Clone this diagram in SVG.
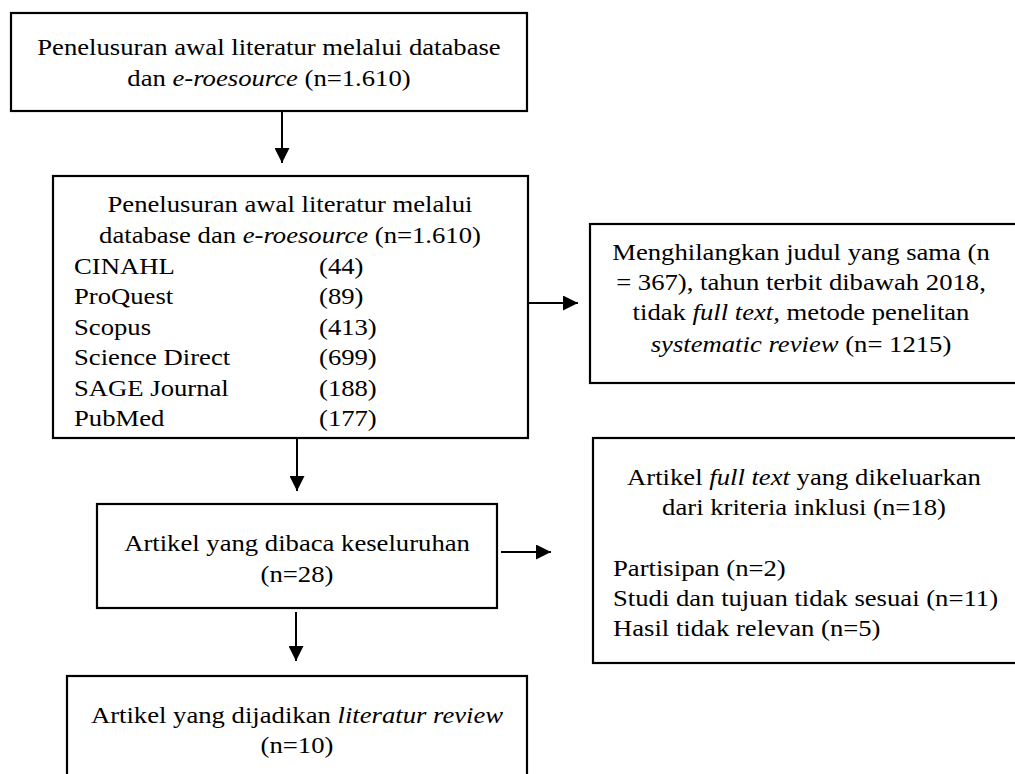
<svg xmlns="http://www.w3.org/2000/svg" width="1015" height="774" viewBox="0 0 1015 774">
<style>
.box{fill:#fff;stroke:#000;stroke-width:2.2}
.t{font-family:"Liberation Serif","Times New Roman",serif;font-size:23px;fill:#000}
.c{text-anchor:middle}
.i{font-style:italic}
.con{stroke:#000;stroke-width:2;fill:none}
</style>
<defs>
<marker id="ah" markerUnits="userSpaceOnUse" markerWidth="15" markerHeight="15" refX="15" refY="7.5" orient="auto">
<path d="M0,0 L15,7.5 L0,15 z" fill="#000"/>
</marker>
</defs>
<rect width="1015" height="774" fill="#fff"/>
<g id="connectors">
<line class="con" x1="282" y1="111" x2="282" y2="163" marker-end="url(#ah)"/>
<line class="con" x1="528" y1="303" x2="578" y2="303" marker-end="url(#ah)"/>
<line class="con" x1="297" y1="438" x2="297" y2="491" marker-end="url(#ah)"/>
<line class="con" x1="501" y1="552" x2="551" y2="552" marker-end="url(#ah)"/>
<line class="con" x1="296" y1="612" x2="296" y2="661" marker-end="url(#ah)"/>
</g>
<g id="node1">
<rect class="box" x="11" y="13" width="516" height="98"/>
<text class="t c" transform="translate(269,55) scale(1.16,1)">Penelusuran awal literatur melalui database</text>
<text class="t c" transform="translate(269,86) scale(1.16,1)">dan <tspan class="i">e-roesource</tspan> (n=1.610)</text>
</g>
<g id="node2">
<rect class="box" x="53" y="176" width="475" height="262"/>
<text class="t c" transform="translate(290,212) scale(1.16,1)">Penelusuran awal literatur melalui</text>
<text class="t c" transform="translate(290,243) scale(1.16,1)">database dan <tspan class="i">e-roesource</tspan> (n=1.610)</text>
<text class="t" transform="translate(74,274) scale(1.16,1)">CINAHL</text>
<text class="t" transform="translate(319,274) scale(1.16,1)">(44)</text>
<text class="t" transform="translate(74,304) scale(1.16,1)">ProQuest</text>
<text class="t" transform="translate(319,304) scale(1.16,1)">(89)</text>
<text class="t" transform="translate(74,335) scale(1.16,1)">Scopus</text>
<text class="t" transform="translate(319,335) scale(1.16,1)">(413)</text>
<text class="t" transform="translate(74,365) scale(1.16,1)">Science Direct</text>
<text class="t" transform="translate(319,365) scale(1.16,1)">(699)</text>
<text class="t" transform="translate(74,396) scale(1.16,1)">SAGE Journal</text>
<text class="t" transform="translate(319,396) scale(1.16,1)">(188)</text>
<text class="t" transform="translate(74,426) scale(1.16,1)">PubMed</text>
<text class="t" transform="translate(319,426) scale(1.16,1)">(177)</text>
</g>
<g id="node3">
<rect class="box" x="590" y="224" width="440" height="159"/>
<text class="t c" transform="translate(801,260) scale(1.16,1)">Menghilangkan judul yang sama (n</text>
<text class="t c" transform="translate(801,290) scale(1.16,1)">= 367), tahun terbit dibawah 2018,</text>
<text class="t c" transform="translate(801,320) scale(1.16,1)">tidak <tspan class="i">full text,</tspan> metode penelitan</text>
<text class="t c" transform="translate(801,352) scale(1.16,1)"><tspan class="i">systematic review</tspan> (n= 1215)</text>
</g>
<g id="node4">
<rect class="box" x="97" y="504" width="400" height="104"/>
<text class="t c" transform="translate(297,551) scale(1.16,1)">Artikel yang dibaca keseluruhan</text>
<text class="t c" transform="translate(297,582) scale(1.16,1)">(n=28)</text>
</g>
<g id="node5">
<rect class="box" x="593" y="438" width="440" height="225"/>
<text class="t c" transform="translate(804,485) scale(1.16,1)">Artikel <tspan class="i">full text</tspan> yang dikeluarkan</text>
<text class="t c" transform="translate(804,515) scale(1.16,1)">dari kriteria inklusi (n=18)</text>
<text class="t" transform="translate(613,576) scale(1.16,1)">Partisipan (n=2)</text>
<text class="t" transform="translate(613,606) scale(1.16,1)">Studi dan tujuan tidak sesuai (n=11)</text>
<text class="t" transform="translate(613,636) scale(1.16,1)">Hasil tidak relevan (n=5)</text>
</g>
<g id="node6">
<rect class="box" x="67" y="676" width="460" height="120"/>
<text class="t c" transform="translate(297,723) scale(1.16,1)">Artikel yang dijadikan <tspan class="i">literatur review</tspan></text>
<text class="t c" transform="translate(297,753) scale(1.16,1)">(n=10)</text>
</g>
</svg>
